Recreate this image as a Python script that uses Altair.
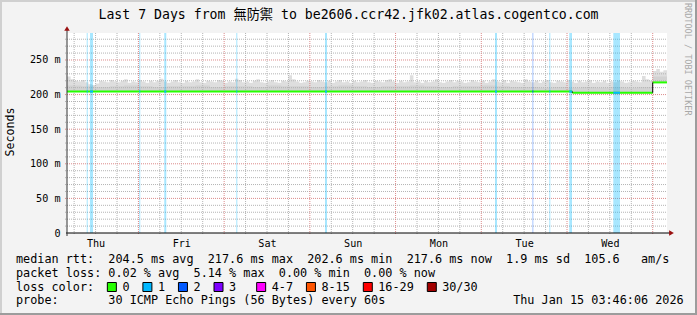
import altair as alt
import pandas as pd

MONO = "DejaVu Sans Mono"
TITLE_FONT = "DejaVu Sans Mono, Noto Sans CJK TC"
NB = "\u00a0"

# ---------------- data ----------------
title_text = "Last 7 Days from 無防禦 to be2606.ccr42.jfk02.atlas.cogentco.com"
range_start = "2026-01-08 04:00:00"
range_end = "2026-01-15 04:00:00"
day_noons = ["2026-01-08 12:00", "2026-01-09 12:00", "2026-01-10 12:00", "2026-01-11 12:00",
             "2026-01-12 12:00", "2026-01-13 12:00", "2026-01-14 12:00"]

# hourly upper edge of the smoke (ms), starting at range_start
smoke_outer = [
    226, 222, 220, 219, 221, 218, 215, 214, 216, 220, 219, 218, 221, 219, 218, 220, 222, 217, 219, 218, 221, 219, 217, 220,
    218, 220, 223, 219, 217, 219, 221, 218, 217, 220, 218, 219, 222, 218, 217, 220, 219, 218, 221, 220, 217, 219, 218, 223,
    221, 218, 219, 217, 220, 222, 218, 217, 219, 221, 218, 217, 220, 219, 228, 222, 219, 217, 218, 220, 219, 218, 221, 219,
    218, 220, 217, 219, 221, 218, 219, 217, 220, 218, 219, 221, 218, 217, 220, 219, 218, 221, 222, 219, 217, 220, 218, 219,
    228, 218, 219, 217, 220, 218, 219, 222, 218, 217, 219, 221, 218, 220, 219, 217, 218, 221, 219, 218, 220, 217, 219, 222,
    219, 218, 221, 217, 220, 219, 218, 217, 222, 219, 218, 220, 217, 219, 221, 218, 217, 220, 219, 218, 221, 219, 217, 220,
    218, 219, 221, 217, 219, 218, 220, 217, 219, 218, 220, 219, 217, 218, 220, 219, 218, 227, 222, 220,
    234, 237, 233, 235,
]
# denser inner smoke, one value per 4 hours (ms)
smoke_inner_4h = [
    213, 212, 211, 212, 213, 212, 211, 212, 212, 213, 211, 212, 212, 211,
    213, 212, 212, 211, 212, 213, 212, 211, 212, 212, 213, 212, 211, 212,
    212, 213, 212, 211, 211, 210, 211, 210, 211, 210, 211, 210, 211, 226,
]

median_start = ["2026-01-08 04:00", "2026-01-14 01:30", "2026-01-15 00:00"]
median_end = ["2026-01-14 01:30", "2026-01-15 00:00", "2026-01-15 04:00"]
median_ms = [204.4, 202.6, 217.6]

loss_start = ["2026-01-08 09:31", "2026-01-08 10:26", "2026-01-09 00:14", "2026-01-09 07:14",
              "2026-01-10 03:24", "2026-01-11 04:14", "2026-01-13 03:50", "2026-01-13 14:18",
              "2026-01-13 19:03", "2026-01-14 00:38", "2026-01-14 12:58"]
loss_end = ["2026-01-08 09:48", "2026-01-08 11:17", "2026-01-09 00:31", "2026-01-09 07:48",
            "2026-01-10 03:41", "2026-01-11 04:48", "2026-01-13 04:24", "2026-01-13 14:35",
            "2026-01-13 19:20", "2026-01-14 01:24", "2026-01-14 14:50"]
loss_level = ["1", "1", "1", "1", "1", "1", "1", "2", "1", "1", "1"]

loss_names = ["0", "1", "2", "3", "4-7", "8-15", "16-29", "30/30"]
loss_hex = ["#26ff00", "#00b8ff", "#0059ff", "#7e00ff", "#ff00ff", "#ff5500", "#ff0000", "#a10000"]
loss_label_col = [15, 20, 25, 30, 36, 43, 51, 60]

y_tick_values = [0, 50, 100, 150, 200, 250]

line1 = "median rtt:  204.5 ms avg  217.6 ms max  202.6 ms min  217.6 ms now  1.9 ms sd  105.6   am/s"
line2 = "packet loss: 0.02 % avg  5.14 % max  0.00 % min  0.00 % now"
probe_text = "probe:       30 ICMP Echo Pings (56 Bytes) every 60s"
stamp_text = "Thu Jan 15 03:46:06 2026"
watermark = "RRDTOOL / TOBI OETIKER"

# ---------------- derived tables ----------------
t0 = pd.Timestamp(range_start)
t1 = pd.Timestamp(range_end)
color_of = dict(zip(loss_names, loss_hex))


def median_at(t):
    for s, e, v in zip(median_start, median_end, median_ms):
        if pd.Timestamp(s) <= t < pd.Timestamp(e):
            return v
    return median_ms[-1]


rows = []
for h, top in enumerate(smoke_outer):
    t = t0 + pd.Timedelta(hours=h)
    rows.append({"t": t, "base": median_at(t) - 0.5, "top": top, "inner": smoke_inner_4h[h // 4]})
rows.append(dict(rows[-1], t=t1))
smoke_df = pd.DataFrame(rows)

med_df = pd.DataFrame({"s": pd.to_datetime(median_start), "e": pd.to_datetime(median_end), "v": median_ms})
conn_df = pd.DataFrame({"t": pd.to_datetime(median_start[1:]), "a": median_ms[:-1], "b": median_ms[1:]})

loss_df = pd.DataFrame({"s": pd.to_datetime(loss_start), "e": pd.to_datetime(loss_end),
                        "c": [color_of[l] for l in loss_level]})
loss_df["v"] = [median_at(t) for t in loss_df["s"]]

grid_times = pd.date_range("2026-01-08 06:00", "2026-01-15 00:00", freq="6h")
major_x = pd.DataFrame({"t": [t for t in grid_times if t.hour == 0]})
minor_x = pd.DataFrame({"t": [t for t in grid_times if t.hour != 0]})
major_y = pd.DataFrame({"v": [v for v in range(10, 289, 10) if v % 50 == 0]})
minor_y = pd.DataFrame({"v": [v for v in range(10, 289, 10) if v % 50 != 0]})

# ---------------- scales / axes ----------------
x_scale = alt.Scale(domain=[alt.DateTime(year=2026, month=1, date=8, hours=4),
                            alt.DateTime(year=2026, month=1, date=15, hours=4)], nice=False)
y_scale = alt.Scale(domain=[0, 289], nice=False, zero=True)
x_axis = alt.Axis(values=[alt.DateTime(year=2026, month=1, date=int(d[8:10]), hours=12) for d in day_noons],
                  format="%a", grid=False, domain=False, ticks=False, tickSize=0, labelPadding=5,
                  labelFont=MONO, labelFontSize=10.15, labelColor="black", labelFlush=False,
                  labelOverlap=False, title=None)
y_axis = alt.Axis(values=y_tick_values, labelExpr="datum.value == 0 ? '0' : datum.value + ' m'",
                  grid=False, domain=False, ticks=False, tickSize=0, labelPadding=7,
                  labelFont=MONO, labelFontSize=10.15, labelColor="black", title=None)


def X(f):
    return alt.X(f, type="temporal", scale=x_scale, axis=x_axis)


def Y(f):
    return alt.Y(f, type="quantitative", scale=y_scale, axis=y_axis)


one = pd.DataFrame({"k": [0]})

layers = []

# smoke
layers.append(alt.Chart(smoke_df).mark_area(interpolate="step-after", color="#dedede").encode(
    x=X("t"), y=Y("top"), y2="base"))
layers.append(alt.Chart(smoke_df).mark_area(interpolate="step-after", color="#d2d2d2").encode(
    x=X("t"), y=Y("inner"), y2="base"))

# grid
layers.append(alt.Chart(minor_x).mark_rule(color="#b4b4b4", strokeDash=[1, 1], strokeWidth=1).encode(
    x=X("t"), y=alt.value(0), y2=alt.value(202)))
layers.append(alt.Chart(minor_y).mark_rule(color="#b4b4b4", strokeDash=[1, 1], strokeWidth=1).encode(
    y=Y("v"), x=alt.value(-2), x2=alt.value(600)))
layers.append(alt.Chart(major_x).mark_rule(color="#dc8a8a", strokeDash=[1, 1], strokeWidth=1).encode(
    x=X("t"), y=alt.value(0), y2=alt.value(202)))
layers.append(alt.Chart(major_y).mark_rule(color="#dc8a8a", strokeDash=[1, 1], strokeWidth=1).encode(
    y=Y("v"), x=alt.value(-2), x2=alt.value(600)))

# loss bars
layers.append(alt.Chart(loss_df).mark_rect(opacity=0.34).encode(
    x=X("s"), x2="e", y=alt.value(0), y2=alt.value(200), color=alt.Color("c:N", scale=None)))

# median line
layers.append(alt.Chart(med_df).mark_rule(color="#26ff00", strokeWidth=2).encode(
    x=X("s"), x2="e", y=Y("v")))
layers.append(alt.Chart(loss_df).mark_rule(strokeWidth=2).encode(
    x=X("s"), x2="e", y=Y("v"), color=alt.Color("c:N", scale=None)))
layers.append(alt.Chart(conn_df).mark_rule(color="black", strokeWidth=1).encode(
    x=X("t"), y=Y("a"), y2="b"))

# axis lines and arrows
layers.append(alt.Chart(one).mark_rule(color="black", strokeWidth=1).encode(
    x=alt.value(-1), x2=alt.value(604), y=alt.value(200)))
layers.append(alt.Chart(one).mark_rule(color="#333333", strokeWidth=1).encode(
    x=alt.value(0), y=alt.value(-4), y2=alt.value(203)))
layers.append(alt.Chart(one).mark_point(shape="triangle-up", filled=True, size=30, color="#9a1010", opacity=1).encode(
    x=alt.value(0), y=alt.value(-4.5)))
layers.append(alt.Chart(one).mark_point(shape="triangle-right", filled=True, size=30, color="#9a1010", opacity=1).encode(
    x=alt.value(604.5), y=alt.value(200)))


def txt(s, x, y, size, align="left", baseline="alphabetic", angle=0, color="black", font=MONO):
    return alt.Chart(pd.DataFrame({"s": [s]})).mark_text(
        align=align, baseline=baseline, angle=angle, color=color, font=font, fontSize=size).encode(
        x=alt.value(x), y=alt.value(y), text="s:N")


CH = 7.11   # character advance of the legend font
LX = -51    # legend text start (relative to plot origin)

layers.append(txt(title_text, 281.5, -18, 13.2, align="center", baseline="middle", font=TITLE_FONT))
layers.append(txt("Seconds", -56, 99, 11.6, align="center", baseline="middle", angle=270))
layers.append(txt(watermark, 621, -30, 8.5, align="left", baseline="middle", angle=90, color="#a8a8a8"))

layers.append(txt(line1.replace(" ", NB), LX, 230.3, 11.8))
layers.append(txt(line2.replace(" ", NB), LX, 244.0, 11.8))

chars = list("loss color:".ljust(66))
for name, col in zip(loss_names, loss_label_col):
    for i, ch in enumerate(name):
        chars[col + i] = ch
line3 = "".join(chars).rstrip()
layers.append(txt(line3.replace(" ", NB), LX, 257.8, 11.8))

for name, hexc, col in zip(loss_names, loss_hex, loss_label_col):
    bx = LX + col * CH - 15.3
    layers.append(alt.Chart(one).mark_rect(fill=hexc, stroke="black", strokeWidth=1).encode(
        x=alt.value(bx), x2=alt.value(bx + 9), y=alt.value(249.5), y2=alt.value(258.5)))

line4 = probe_text.ljust(70) + stamp_text
layers.append(txt(line4.replace(" ", NB), LX, 271.3, 11.8))

# frame
layers.append(alt.Chart(one).mark_rule(color="#d0d0d0", strokeWidth=2).encode(
    x=alt.value(-67), x2=alt.value(630), y=alt.value(-32)))
layers.append(alt.Chart(one).mark_rule(color="#d0d0d0", strokeWidth=2).encode(
    x=alt.value(-66), y=alt.value(-33), y2=alt.value(282)))
layers.append(alt.Chart(one).mark_rule(color="#9c9c9c", strokeWidth=2).encode(
    x=alt.value(-67), x2=alt.value(630), y=alt.value(281)))
layers.append(alt.Chart(one).mark_rule(color="#9c9c9c", strokeWidth=2).encode(
    x=alt.value(629), y=alt.value(-33), y2=alt.value(282)))

chart = alt.layer(*layers).properties(
    width=600, height=200,
    padding={"left": 67, "top": 33, "right": 30, "bottom": 82},
    autosize=alt.AutoSizeParams(type="none"),
    background="#f3f3f3",
).configure_view(fill="white", stroke=None)

chart.save("out.html", embed_options={"renderer": "svg", "actions": False})
